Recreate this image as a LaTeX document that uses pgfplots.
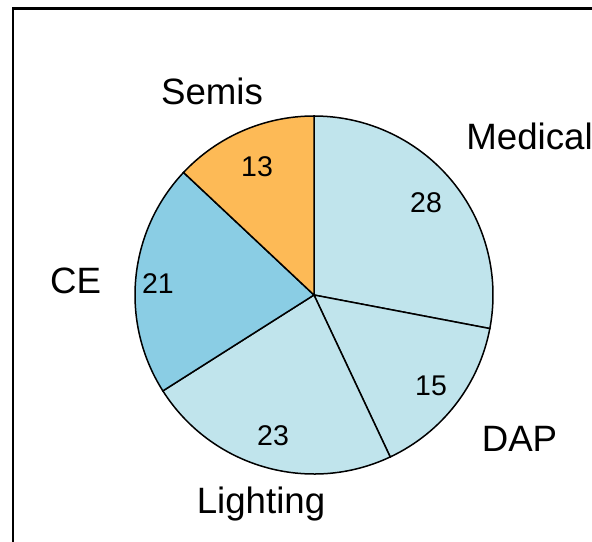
\documentclass[border=0pt]{standalone}
\usepackage{pgfplots}
\pgfplotsset{compat=1.18}
\usepackage{fontspec}
\setmainfont{Liberation Sans}
\definecolor{lb}{RGB}{192,228,236}
\definecolor{sb}{RGB}{138,205,228}
\definecolor{org}{RGB}{253,186,86}
\newcommand{\bigf}{\fontsize{18.4}{20}\selectfont}
\newcommand{\smf}{\fontsize{14.3}{15}\selectfont}
\begin{document}
\begin{tikzpicture}
\begin{axis}[scale only axis, width=296bp, height=271bp,
  xmin=0, xmax=592, ymin=0, ymax=542, hide axis, clip=false]
% frame
\draw[line width=1.25bp, black] (axis cs:13,0) -- (axis cs:13,533.5) -- (axis cs:600,533.5);
% pie: Medical 28, DAP 15, Lighting 23, CE 21, Semis 13 (clockwise from top)
\def\R{89.5bp}
\filldraw[fill=lb, draw=black, line width=0.75bp] (axis cs:314,247) -- ++(90:\R) arc[start angle=90, end angle={90-28*3.6}, radius=\R] -- cycle;
\filldraw[fill=lb, draw=black, line width=0.75bp] (axis cs:314,247) -- ++({90-28*3.6}:\R) arc[start angle={90-28*3.6}, end angle={90-43*3.6}, radius=\R] -- cycle;
\filldraw[fill=lb, draw=black, line width=0.75bp] (axis cs:314,247) -- ++({90-43*3.6}:\R) arc[start angle={90-43*3.6}, end angle={90-66*3.6}, radius=\R] -- cycle;
\filldraw[fill=sb, draw=black, line width=0.75bp] (axis cs:314,247) -- ++({90-66*3.6}:\R) arc[start angle={90-66*3.6}, end angle={90-87*3.6}, radius=\R] -- cycle;
\filldraw[fill=org, draw=black, line width=0.75bp] (axis cs:314,247) -- ++({90-87*3.6}:\R) arc[start angle={90-87*3.6}, end angle={90-100*3.6}, radius=\R] -- cycle;
% labels
\node[anchor=base, inner sep=0] at (axis cs:212,437) {\bigf Semis};
\node[anchor=base west, inner sep=0] at (axis cs:466,392) {\bigf Medical};
\node[anchor=base, inner sep=0] at (axis cs:519.5,90) {\bigf DAP};
\node[anchor=base, inner sep=0] at (axis cs:261,29) {\bigf Lighting};
\node[anchor=base, inner sep=0] at (axis cs:75.5,248) {\bigf CE};
\node[anchor=base, inner sep=0] at (axis cs:426,329) {\smf 28};
\node[anchor=base, inner sep=0] at (axis cs:431,146) {\smf 15};
\node[anchor=base, inner sep=0] at (axis cs:273,96) {\smf 23};
\node[anchor=base, inner sep=0] at (axis cs:158,248) {\smf 21};
\node[anchor=base, inner sep=0] at (axis cs:257,365) {\smf 13};
\end{axis}
\pgfresetboundingbox
\path (0,0) rectangle (296bp,271bp);
\end{tikzpicture}
\end{document}
